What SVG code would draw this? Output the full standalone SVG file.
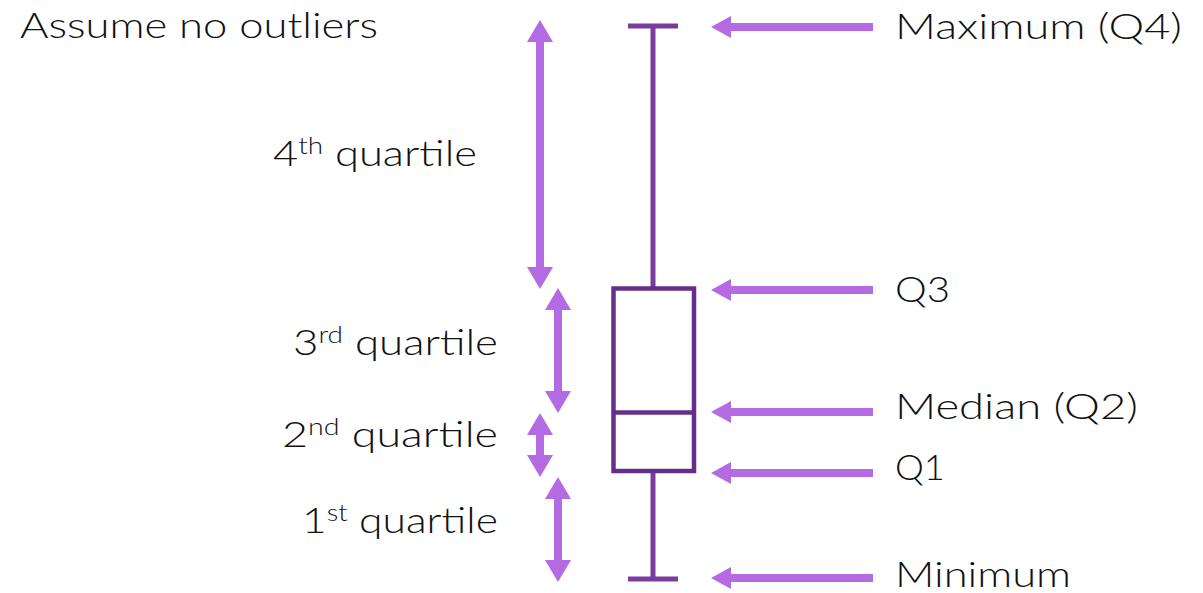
<svg xmlns="http://www.w3.org/2000/svg" width="1203" height="593" viewBox="0 0 1203 593">
  <style>
    .lbl { font-family: "Lato", "Liberation Sans", sans-serif; font-weight: 300; font-size: 36px; fill: #111; }
    .sup { font-size: 23px; }
    .arr { stroke: #b36ae2; stroke-width: 8; fill: none; }
    .box { stroke: #642f88; stroke-width: 4.5; fill: #fff; }
    .whisk { stroke: #7a3d9e; stroke-width: 5; fill: none; }
  </style>
  <defs>
    <marker id="hv" markerUnits="userSpaceOnUse" markerWidth="22" markerHeight="26" refX="6" refY="13" orient="auto-start-reverse" viewBox="0 0 22 26">
      <path d="M0,0 L22,13 L0,26 z" fill="#b36ae2"/>
    </marker>
    <marker id="hh" markerUnits="userSpaceOnUse" markerWidth="20" markerHeight="22" refX="5" refY="11" orient="auto" viewBox="0 0 20 22">
      <path d="M0,0 L20,11 L0,22 z" fill="#b36ae2"/>
    </marker>
  </defs>

  <g id="boxplot">
    <line class="whisk" x1="653" y1="26" x2="653" y2="288"/>
    <line class="whisk" x1="628" y1="26" x2="678" y2="26"/>
    <line class="whisk" x1="653" y1="471" x2="653" y2="579"/>
    <line class="whisk" x1="628" y1="579" x2="678" y2="579"/>
    <rect class="box" x="613.5" y="288.5" width="80.5" height="182.5"/>
    <line class="box" x1="613" y1="412.5" x2="694" y2="412.5"/>
  </g>

  <g id="connectors">
    <line class="arr" x1="540" y1="36" x2="540" y2="273" marker-start="url(#hv)" marker-end="url(#hv)"/>
    <line class="arr" x1="558" y1="304" x2="558" y2="397" marker-start="url(#hv)" marker-end="url(#hv)"/>
    <line class="arr" x1="540" y1="429" x2="540" y2="461" marker-start="url(#hv)" marker-end="url(#hv)"/>
    <line class="arr" x1="558" y1="493" x2="558" y2="566" marker-start="url(#hv)" marker-end="url(#hv)"/>
    <line class="arr" x1="873" y1="27" x2="726" y2="27" marker-end="url(#hh)"/>
    <line class="arr" x1="873" y1="290" x2="726" y2="290" marker-end="url(#hh)"/>
    <line class="arr" x1="873" y1="412" x2="726" y2="412" marker-end="url(#hh)"/>
    <line class="arr" x1="873" y1="473" x2="726" y2="473" marker-end="url(#hh)"/>
    <line class="arr" x1="873" y1="578" x2="726" y2="578" marker-end="url(#hh)"/>
  </g>

  <g id="note"><text class="lbl" x="20" y="38" textLength="358" lengthAdjust="spacingAndGlyphs">Assume no outliers</text></g>
  <g id="max"><text class="lbl" x="895" y="39" textLength="287" lengthAdjust="spacingAndGlyphs">Maximum (Q4)</text></g>
  <g id="q3"><text class="lbl" x="895" y="302" textLength="55" lengthAdjust="spacingAndGlyphs">Q3</text></g>
  <g id="median"><text class="lbl" x="895" y="419" textLength="243" lengthAdjust="spacingAndGlyphs">Median (Q2)</text></g>
  <g id="q1"><text class="lbl" x="895" y="480" textLength="50" lengthAdjust="spacingAndGlyphs">Q1</text></g>
  <g id="min"><text class="lbl" x="895" y="587" textLength="176" lengthAdjust="spacingAndGlyphs">Minimum</text></g>

  <g id="quartile4"><text class="lbl" x="273" y="166" textLength="204" lengthAdjust="spacingAndGlyphs"><tspan>4</tspan><tspan class="sup" dy="-12">th</tspan><tspan dy="12"> quartile</tspan></text></g>
  <g id="quartile3"><text class="lbl" x="293" y="355" textLength="205" lengthAdjust="spacingAndGlyphs"><tspan>3</tspan><tspan class="sup" dy="-12">rd</tspan><tspan dy="12"> quartile</tspan></text></g>
  <g id="quartile2"><text class="lbl" x="282" y="447" textLength="216" lengthAdjust="spacingAndGlyphs"><tspan>2</tspan><tspan class="sup" dy="-12">nd</tspan><tspan dy="12"> quartile</tspan></text></g>
  <g id="quartile1"><text class="lbl" x="302" y="533" textLength="196" lengthAdjust="spacingAndGlyphs"><tspan>1</tspan><tspan class="sup" dy="-12">st</tspan><tspan dy="12"> quartile</tspan></text></g>
</svg>
